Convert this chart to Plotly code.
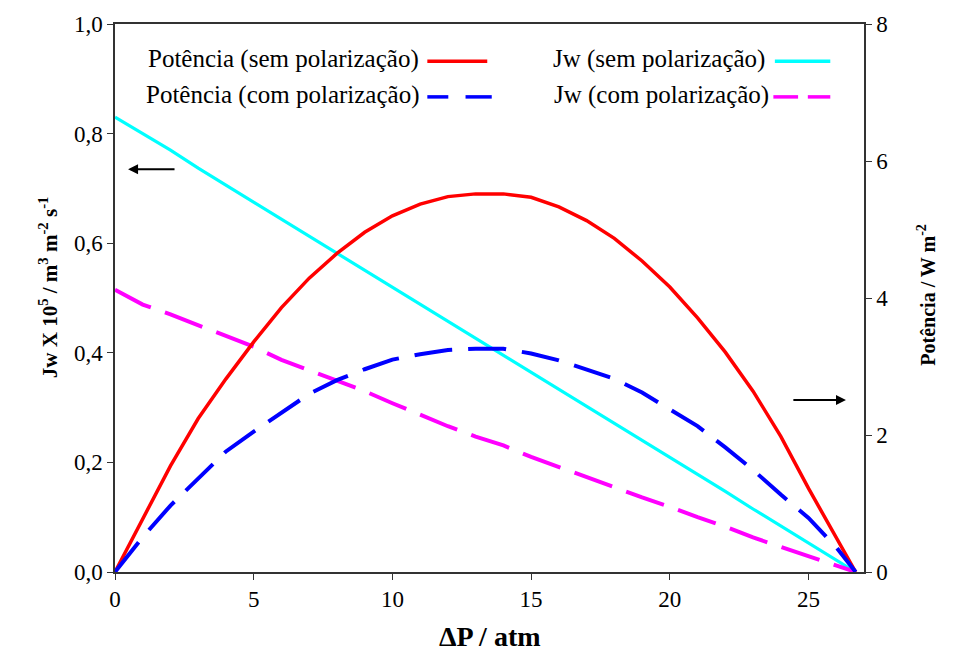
import plotly.graph_objects as go

# Pressure difference (atm)
dp = [0, 1, 2, 3, 4, 5, 6, 7, 8, 9, 10, 11, 12, 13, 14, 15, 16, 17, 18, 19, 20,
      21, 22, 23, 24, 25, 26, 26.7]

# Water flux Jw x 1e5 (m3 m-2 s-1)
jw_sem = [0.83, 0.80, 0.77, 0.737, 0.706, 0.675, 0.644, 0.613, 0.582, 0.551, 0.52,
          0.489, 0.457, 0.426, 0.395, 0.364, 0.333, 0.302, 0.271, 0.24, 0.209,
          0.178, 0.147, 0.115, 0.084, 0.053, 0.022, 0.0]
jw_com = [0.515, 0.488, 0.47, 0.45, 0.43, 0.411, 0.387, 0.368, 0.348, 0.33, 0.308,
          0.287, 0.266, 0.247, 0.231, 0.21, 0.192, 0.173, 0.155, 0.136, 0.119,
          0.10, 0.083, 0.063, 0.046, 0.028, 0.011, 0.0]

# Power density (W m-2)
pot_sem = [0, 0.78, 1.55, 2.24, 2.82, 3.36, 3.86, 4.29, 4.65, 4.96, 5.2, 5.37, 5.48,
           5.52, 5.52, 5.47, 5.33, 5.13, 4.87, 4.54, 4.16, 3.71, 3.21, 2.64, 1.98,
           1.22, 0.5, 0]
pot_com = [0, 0.51, 0.97, 1.36, 1.76, 2.05, 2.33, 2.6, 2.8, 2.96, 3.1, 3.18, 3.24,
           3.26, 3.26, 3.19, 3.09, 2.96, 2.82, 2.62, 2.38, 2.13, 1.82, 1.49, 1.13,
           0.79, 0.36, 0]

labels = ["Potência (sem polarização)", "Potência (com polarização)",
          "Jw (sem polarização)", "Jw (com polarização)"]

FONT = "'Liberation Serif', 'Times New Roman', 'DejaVu Serif', serif"
RED, BLUE, CYAN, MAG = "#FF0000", "#0000FF", "#00FFFF", "#FF00FF"

fig = go.Figure()
fig.add_trace(go.Scatter(x=dp, y=jw_sem, mode="lines", name=labels[2],
                         line=dict(color=CYAN, width=3.2)))
fig.add_trace(go.Scatter(x=dp, y=jw_com, mode="lines", name=labels[3],
                         line=dict(color=MAG, width=4, dash="40px,15px")))
fig.add_trace(go.Scatter(x=dp, y=pot_sem, mode="lines", name=labels[0], yaxis="y2",
                         line=dict(color=RED, width=3.5)))
fig.add_trace(go.Scatter(x=dp, y=pot_com, mode="lines", name=labels[1], yaxis="y2",
                         line=dict(color=BLUE, width=4, dash="38px,16px")))

axis_common = dict(showgrid=False, zeroline=False, showline=True,
                   linecolor="#333333", linewidth=1.5, ticks="outside",
                   ticklen=6, tickcolor="#333333",
                   tickfont=dict(family=FONT, size=23, color="black"))

fig.update_layout(
    width=956, height=659,
    margin=dict(l=115, r=92, t=17, b=87),
    paper_bgcolor="white", plot_bgcolor="white",
    showlegend=False,
    separators=",.",
    font=dict(family=FONT, color="black"),
    xaxis=dict(range=[0, 27], tickvals=[0, 5, 10, 15, 20, 25], mirror=True,
               **axis_common),
    yaxis=dict(range=[0, 1.0], tickvals=[0, 0.2, 0.4, 0.6, 0.8, 1.0],
               tickformat=".1f", **axis_common),
    yaxis2=dict(range=[0, 8], tickvals=[0, 2, 4, 6, 8], overlaying="y",
                side="right", **axis_common),
)

# Axis titles
fig.add_annotation(x=0.5, y=-0.118, xref="paper", yref="paper", showarrow=False,
                   text="<b>ΔP / atm</b>", font=dict(family=FONT, size=28),
                   yanchor="middle")
fig.add_annotation(x=-0.11, y=0.52, xref="paper", yref="paper", showarrow=False,
                   textangle=-90,
                   text="<b>Jw X 10<sup>5</sup> / m<sup>3</sup> m<sup>-2</sup> s<sup>-1</sup></b>",
                   font=dict(family=FONT, size=21))
fig.add_annotation(x=1.102, y=0.505, xref="paper", yref="paper", showarrow=False,
                   textangle=-90, text="<b>Potência / W m<sup>-2</sup></b>",
                   font=dict(family=FONT, size=20))

# Direction arrows pointing to the relevant axis
fig.add_annotation(x=0.47, y=0.735, ax=2.2, ay=0.735, xref="x", yref="y",
                   axref="x", ayref="y", text="", showarrow=True, arrowhead=2,
                   arrowsize=1, arrowwidth=2, arrowcolor="black")
fig.add_annotation(x=26.35, y=2.51, ax=24.4, ay=2.51, xref="x", yref="y2",
                   axref="x", ayref="y2", text="", showarrow=True, arrowhead=2,
                   arrowsize=1, arrowwidth=2, arrowcolor="black")

# Legend drawn as text plus line samples
rows = [
    (labels[0], 0.408, 0.937, RED, None, (0.417, 0.497), 0.932),
    (labels[1], 0.408, 0.871, BLUE, [(0.417, 0.445), (0.468, 0.503)], None, 0.867),
    (labels[2], 0.871, 0.937, CYAN, None, (0.881, 0.955), 0.932),
    (labels[3], 0.876, 0.871, MAG, [(0.879, 0.912), (0.925, 0.955)], None, 0.867),
]
for text, tx, ty, color, segs, solid, ly in rows:
    fig.add_annotation(x=tx, y=ty, xref="paper", yref="paper", showarrow=False,
                       text=text, xanchor="right", yanchor="middle",
                       font=dict(family=FONT, size=25))
    if solid:
        segs = [solid]
    for x0, x1 in segs:
        fig.add_shape(type="line", xref="paper", yref="paper", x0=x0, x1=x1,
                      y0=ly, y1=ly, line=dict(color=color, width=3.5))

fig.write_html("out.html")
